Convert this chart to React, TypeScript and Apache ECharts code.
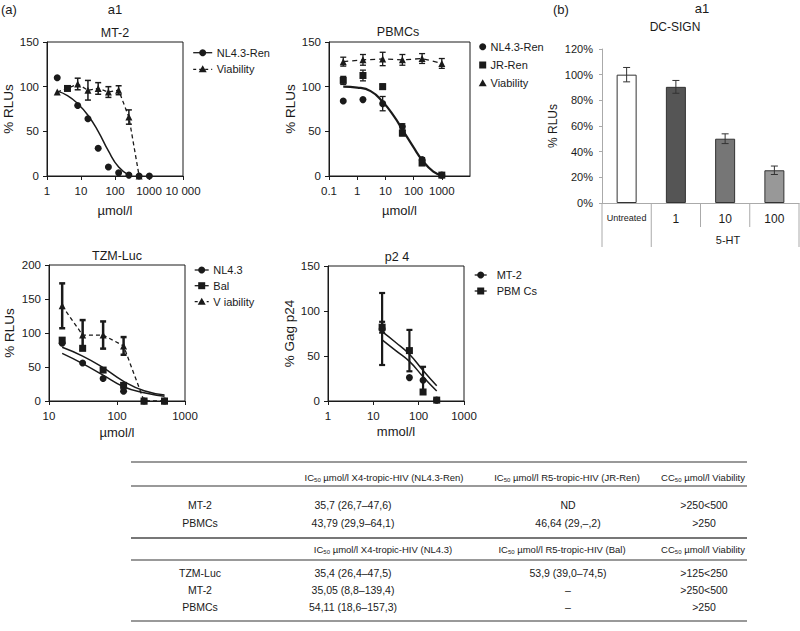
import React, { useEffect, useRef } from 'react';
import * as echarts from 'echarts';

const FONT = '"Liberation Sans", Arial, Helvetica, sans-serif';
const INK = '#1a1a1a';

// ---------- (a) MT-2 ----------
const mt2NlConc = [2, 8, 16, 32, 64, 128, 256, 512, 1024];
const mt2NlRlu = [110, 79, 64, 31, 10, 3.5, 1, 0, 0];
const mt2FitConc = [2, 4, 8, 16, 32, 64, 128, 256];
const mt2FitRlu = [95, 90, 81, 68, 50, 28, 10, 1];
const mt2ViaConc = [2, 4, 8, 16, 32, 64, 128, 256, 512];
const mt2ViaRlu = [94, 98, 103, 96, 98, 94, 96, 66, 0];
const mt2ViaErr = [0, 0, 6.5, 11, 6.5, 6, 5, 8, 0];

// ---------- (a) PBMCs ----------
const pbConc = [0.32, 1.6, 8, 40, 200, 1000];
const pbNlRlu = [84, 85.5, 81, 55.5, 18.5, 1];
const pbNlErr = [0, 0, 8, 3, 2, 0];
const pbJrRlu = [107, 112.5, 100, 48, 14.5, 1];
const pbJrErr = [4.5, 6, 3, 3, 2, 0];
const pbViaRlu = [128, 130, 131, 130, 131.5, 126];
const pbViaErr = [5, 6, 7.5, 6, 5.5, 5.5];
const pbFitConc = [0.32, 1, 3, 8, 20, 40, 100, 200, 500, 1000];
const pbFitRlu = [100, 99, 95, 83, 67, 52, 32, 18, 5, 1];

// ---------- (a) TZM-Luc ----------
const tzmConc = [15.625, 31.25, 62.5, 125, 250, 500];
const tzmNlRlu = [85, 56, 33, 14.5, 0, 0];
const tzmBalRlu = [89.5, 77.5, 45.5, 23, 0, 0];
const tzmViaRlu = [140, 97, 97, 81, 0, 0];
const tzmViaErr = [33, 22, 20, 13, 0, 0];
const tzmFitUpper = [79, 66, 49, 29, 15, 9];
const tzmFitLower = [70, 55, 38, 21, 12, 7];

// ---------- (a) p24 ----------
const p24Conc = [15.625, 62.5, 125, 250];
const p24Mt2 = [80, 26, 23, 1];
const p24Mt2Err = [40, 0, 15, 0];
const p24Pbmc = [82, 56, 10, 1];
const p24PbmcErr = [6, 23, 0, 0];
const p24FitConc = [15.625, 31.25, 62.5, 125, 250];
const p24FitUpper = [77, 65, 52, 34, 17];
const p24FitLower = [68, 56, 44, 27, 11];

// ---------- (b) DC-SIGN ----------
const dcCategories = ['Untreated', '1', '10', '100'];
const dcRlu = [1.0, 0.905, 0.501, 0.255];
const dcErr = [0.056, 0.05, 0.038, 0.033];
const dcColors = ['#ffffff', '#555555', '#767676', '#989898'];

// ---------- table ----------
const tableHeader1 = [
  ['IC', ' µmol/l X4-tropic-HIV (NL4.3-Ren)'],
  ['IC', ' µmol/l R5-tropic-HIV (JR-Ren)'],
  ['CC', ' µmol/l Viability'],
];
const tableRows1 = [
  ['MT-2', '35,7 (26,7–47,6)', 'ND', '>250<500'],
  ['PBMCs', '43,79 (29,9–64,1)', '46,64 (29,–,2)', '>250'],
];
const tableHeader2 = [
  ['IC', ' µmol/l X4-tropic-HIV (NL4.3)'],
  ['IC', ' µmol/l R5-tropic-HIV (Bal)'],
  ['CC', ' µmol/l Viability'],
];
const tableRows2 = [
  ['TZM-Luc', '35,4 (26,4–47,5)', '53,9 (39,0–74,5)', '>125<250'],
  ['MT-2', '35,05 (8,8–139,4)', '–', '>250<500'],
  ['PBMCs', '54,11 (18,6–157,3)', '–', '>250'],
];

const pairs = (xs: number[], ys: number[]) => xs.map((x, i) => [x, ys[i]]);
const errData = (xs: number[], ys: number[], es: number[]) =>
  xs.map((x, i) => [x, ys[i] - es[i], ys[i] + es[i]]).filter((_, i) => es[i] > 0);

const fmtLog = (v: number) => {
  const r = Number(Number(v).toPrecision(6));
  return r >= 10000 ? String(r).replace(/(\d)(?=(\d{3})+$)/g, '$1 ') : String(r);
};

const logX = (gi: number, min: number, max: number, name: string, nameGap: number) => ({
  type: 'log', logBase: 10, gridIndex: gi, min, max, name, nameLocation: 'middle', nameGap,
  nameTextStyle: { fontFamily: FONT, fontSize: 13, color: INK },
  axisLine: { show: true, lineStyle: { color: INK, width: 1 } },
  axisTick: { show: true, length: 4, lineStyle: { color: INK } },
  minorTick: { show: false }, splitLine: { show: false },
  axisLabel: { fontFamily: FONT, fontSize: 11.5, color: INK, margin: 9, formatter: fmtLog },
});

const valY = (gi: number, max: number, interval: number, name: string, nameGap: number) => ({
  type: 'value', gridIndex: gi, min: 0, max, interval, name, nameLocation: 'middle', nameGap,
  nameTextStyle: { fontFamily: FONT, fontSize: 13.5, color: INK },
  axisLine: { show: true, lineStyle: { color: INK, width: 1 } },
  axisTick: { show: true, length: 4, lineStyle: { color: INK } },
  splitLine: { show: false },
  axisLabel: { fontFamily: FONT, fontSize: 11.5, color: INK, margin: 8 },
});

const errorSeries = (gi: number, data: number[][], lw: number, cap: number, color = INK) => ({
  type: 'custom', xAxisIndex: gi, yAxisIndex: gi, silent: true, z: 3,
  encode: { x: 0, y: [1, 2] },
  data,
  renderItem: (_p: any, api: any) => {
    const x = api.value(0);
    const lo = api.coord([x, api.value(1)]);
    const hi = api.coord([x, api.value(2)]);
    const st = { stroke: color, lineWidth: lw };
    return {
      type: 'group',
      children: [
        { type: 'line', shape: { x1: lo[0], y1: lo[1], x2: hi[0], y2: hi[1] }, style: st },
        { type: 'line', shape: { x1: lo[0] - cap, y1: lo[1], x2: lo[0] + cap, y2: lo[1] }, style: st },
        { type: 'line', shape: { x1: hi[0] - cap, y1: hi[1], x2: hi[0] + cap, y2: hi[1] }, style: st },
      ],
    };
  },
});

const markerSeries = (gi: number, data: any[], symbol: string, size = 7) => ({
  type: 'scatter', xAxisIndex: gi, yAxisIndex: gi, silent: true, z: 5,
  symbol, symbolSize: size, itemStyle: { color: INK, opacity: 1 }, data,
});

const fitSeries = (gi: number, data: number[][], width = 1.5) => ({
  type: 'line', xAxisIndex: gi, yAxisIndex: gi, silent: true, z: 4,
  smooth: true, showSymbol: false, symbol: 'none',
  lineStyle: { color: INK, width }, data,
});

const dashSeries = (gi: number, data: any[], dash: number[], size = 7) => ({
  type: 'line', xAxisIndex: gi, yAxisIndex: gi, silent: true, z: 4,
  symbol: 'triangle', symbolSize: size, showSymbol: true,
  itemStyle: { color: INK, opacity: 1 },
  lineStyle: { color: INK, width: 1.3, type: dash }, data,
});

// graphic helpers
const txt = (x: number, y: number, text: string, size: number, align = 'center', color = INK) => ({
  type: 'text', x, y, silent: true,
  style: {
    text, fill: color, fontFamily: FONT, fontSize: size,
    textAlign: align, align, textVerticalAlign: 'middle', verticalAlign: 'middle',
  },
});
const hline = (x1: number, x2: number, y: number, color: string, w: number) => ({
  type: 'line', silent: true, shape: { x1, y1: y, x2, y2: y }, style: { stroke: color, lineWidth: w },
});
const vline = (x: number, y1: number, y2: number, color: string, w: number) => ({
  type: 'line', silent: true, shape: { x1: x, y1, x2: x, y2 }, style: { stroke: color, lineWidth: w },
});
const markerShape = (kind: string, x: number, y: number) => {
  if (kind === 'circle') return { type: 'circle', silent: true, shape: { cx: x, cy: y, r: 3.5 }, style: { fill: INK } };
  if (kind === 'rect') return { type: 'rect', silent: true, shape: { x: x - 3.5, y: y - 3.5, width: 7, height: 7 }, style: { fill: INK } };
  return { type: 'polygon', silent: true, shape: { points: [[x, y - 4], [x - 4, y + 3], [x + 4, y + 3]] }, style: { fill: INK } };
};
const legendItem = (mx: number, y: number, tx: number, label: string, kind: string, line: string, half: number) => {
  const els: any[] = [];
  if (line !== 'none') {
    els.push({
      type: 'line', silent: true, shape: { x1: mx - half, y1: y, x2: mx + half, y2: y },
      style: { stroke: INK, lineWidth: 1.3, lineDash: line === 'dashed' ? [3, 3] : null },
    });
  }
  els.push(markerShape(kind, mx, y));
  els.push(txt(tx, y, label, 11, 'left'));
  return els;
};
const richHeader = (x: number, y: number, h: string[]) => ({
  type: 'text', x, y, silent: true,
  style: {
    text: `{a|${h[0]}}{s|50}{a|${h[1]}}`,
    textAlign: 'center', align: 'center', textVerticalAlign: 'middle', verticalAlign: 'middle',
    rich: {
      a: { fontFamily: FONT, fontSize: 9.5, fill: INK, color: INK, lineHeight: 12 },
      s: { fontFamily: FONT, fontSize: 6, fill: INK, color: INK, lineHeight: 7, verticalAlign: 'bottom' },
    },
  },
});

export default function App() {
  const ref = useRef<HTMLDivElement>(null);

  useEffect(() => {
    if (!ref.current) return;
    const chart = echarts.init(ref.current, undefined, { renderer: 'svg' });

    const frame = { show: true, borderColor: INK, borderWidth: 1, backgroundColor: 'transparent' };

    const graphic: any[] = [];
    // titles
    graphic.push(txt(1, 9, '(a)', 13, 'left'));
    graphic.push(txt(115, 9, 'a1', 13));
    graphic.push(txt(115, 33, 'MT-2', 12.5));
    graphic.push(txt(398, 32, 'PBMCs', 12.5));
    graphic.push(txt(553, 9, '(b)', 13, 'left'));
    graphic.push(txt(702, 8, 'a1', 13));
    graphic.push(txt(675, 27, 'DC-SIGN', 12));
    graphic.push(txt(117, 256, 'TZM-Luc', 12.5));
    graphic.push(txt(397, 257, 'p2 4', 12.5));
    graphic.push(txt(728, 240, '5-HT', 11));

    // legends
    graphic.push(...legendItem(202.7, 52.7, 216.7, 'NL4.3-Ren', 'circle', 'solid', 9.5));
    graphic.push(...legendItem(202.7, 69.3, 216.7, 'Viability', 'triangle', 'dashed', 9.5));
    graphic.push(...legendItem(482.7, 46.7, 490.5, 'NL4.3-Ren', 'circle', 'none', 0));
    graphic.push(...legendItem(482.7, 65, 490.5, 'JR-Ren', 'rect', 'none', 0));
    graphic.push(...legendItem(482.7, 83.3, 490.5, 'Viability', 'triangle', 'none', 0));
    graphic.push(...legendItem(201.7, 270, 213.3, 'NL4.3', 'circle', 'solid', 7));
    graphic.push(...legendItem(201.7, 285.7, 213.3, 'Bal', 'rect', 'solid', 7));
    graphic.push(...legendItem(201.7, 301.7, 213.3, 'V iability', 'triangle', 'dashed', 7));
    graphic.push(...legendItem(480.7, 275, 496.7, 'MT-2', 'circle', 'solid', 6));
    graphic.push(...legendItem(480.7, 291, 496.7, 'PBM Cs', 'rect', 'solid', 6));

    // bar chart category separators
    const barLeft = 602, barWidth = 197, axisY = 203;
    for (let i = 0; i <= dcCategories.length; i++) {
      const x = barLeft + (i * barWidth) / dcCategories.length;
      const inner = i === 2 || i === 3;
      graphic.push(vline(x, axisY, inner ? 227 : 247, '#aaaaaa', 1));
    }

    // table
    const tLeft = 131, tRight = 747;
    graphic.push(hline(tLeft, tRight, 462, '#777777', 1.5));
    graphic.push(hline(tLeft, tRight, 486, '#777777', 1.5));
    graphic.push(hline(tLeft, tRight, 538, '#777777', 2));
    graphic.push(hline(tLeft, tRight, 560, '#777777', 1.5));
    graphic.push(hline(tLeft, tRight, 621, '#777777', 1.5));
    const valCols = [200, 353, 568, 704];
    const headCols1 = [384, 567, 703];
    const headCols2 = [383, 562, 703];
    tableHeader1.forEach((h, i) => graphic.push(richHeader(headCols1[i], 477, h)));
    tableHeader2.forEach((h, i) => graphic.push(richHeader(headCols2[i], 549, h)));
    const rowsY1 = [505, 523];
    const rowsY2 = [573, 590, 607];
    tableRows1.forEach((r, ri) => r.forEach((c, ci) => graphic.push(txt(valCols[ci], rowsY1[ri], c, 10.5))));
    tableRows2.forEach((r, ri) => r.forEach((c, ci) => graphic.push(txt(valCols[ci], rowsY2[ri], c, 10.5))));

    const option: any = {
      animation: false,
      textStyle: { fontFamily: FONT },
      grid: [
        { left: 47, top: 42, width: 136, height: 134, ...frame },
        { left: 329, top: 42, width: 141, height: 134, ...frame },
        { left: 602, top: 49, width: 197, height: 154, show: false },
        { left: 49, top: 265, width: 136, height: 136, ...frame },
        { left: 328, top: 266, width: 136, height: 135, ...frame },
      ],
      xAxis: [
        logX(0, 1, 10000, 'µmol/l', 28),
        logX(1, 0.1, 10000, 'µmol/l', 28),
        {
          type: 'category', gridIndex: 2, data: dcCategories,
          axisLine: { show: true, lineStyle: { color: '#aaaaaa' } },
          axisTick: { show: false },
          axisLabel: {
            interval: 0, margin: 10, fontFamily: FONT, fontSize: 12, color: INK,
            formatter: (v: string) => (v === 'Untreated' ? '{s|Untreated}' : v),
            rich: { s: { fontFamily: FONT, fontSize: 9, color: INK } },
          },
        },
        logX(3, 10, 1000, 'µmol/l', 25),
        logX(4, 1, 1000, 'mmol/l', 24),
      ],
      yAxis: [
        valY(0, 150, 50, '% RLUs', 30),
        valY(1, 150, 50, '% RLUs', 29),
        {
          type: 'value', gridIndex: 2, min: 0, max: 1.2, interval: 0.2,
          name: '% RLUs', nameLocation: 'middle', nameGap: 43,
          nameTextStyle: { fontFamily: FONT, fontSize: 12, color: INK },
          axisLine: { show: true, lineStyle: { color: '#aaaaaa' } },
          axisTick: { show: true, length: 3, lineStyle: { color: '#aaaaaa' } },
          splitLine: { show: false },
          axisLabel: {
            fontFamily: FONT, fontSize: 11, color: INK, margin: 9,
            formatter: (v: number) => Math.round(v * 100) + '%',
          },
        },
        valY(3, 200, 50, '% RLUs', 33),
        valY(4, 150, 50, '% Gag p24', 30),
      ],
      series: [
        // MT-2
        fitSeries(0, pairs(mt2FitConc, mt2FitRlu)),
        errorSeries(0, errData(mt2ViaConc, mt2ViaRlu, mt2ViaErr), 1.5, 3),
        dashSeries(
          0,
          mt2ViaConc.map((x, i) => (i === 1 ? { value: [x, mt2ViaRlu[i]], symbol: 'rect' } : [x, mt2ViaRlu[i]])),
          [4, 3],
        ),
        markerSeries(0, pairs(mt2NlConc, mt2NlRlu), 'circle'),
        // PBMCs
        fitSeries(1, pairs(pbFitConc, pbFitRlu), 2.2),
        errorSeries(1, errData(pbConc, pbViaRlu, pbViaErr), 1.3, 3),
        errorSeries(1, errData(pbConc, pbJrRlu, pbJrErr), 1.3, 3),
        errorSeries(1, errData(pbConc, pbNlRlu, pbNlErr), 1.3, 3),
        dashSeries(1, pairs(pbConc, pbViaRlu), [5, 4]),
        markerSeries(1, pairs(pbConc, pbJrRlu), 'rect'),
        markerSeries(1, pairs(pbConc, pbNlRlu), 'circle'),
        // DC-SIGN bars
        {
          type: 'bar', xAxisIndex: 2, yAxisIndex: 2, silent: true, barWidth: 20,
          itemStyle: { borderColor: '#333333', borderWidth: 1 },
          data: dcRlu.map((v, i) => ({ value: v, itemStyle: { color: dcColors[i] } })),
        },
        errorSeries(2, dcRlu.map((v, i) => [i, v - dcErr[i], v + dcErr[i]]), 1, 3.5, '#333333'),
        // TZM-Luc
        fitSeries(3, pairs(tzmConc, tzmFitUpper)),
        fitSeries(3, pairs(tzmConc, tzmFitLower)),
        errorSeries(3, errData(tzmConc, tzmViaRlu, tzmViaErr), 2.5, 3),
        dashSeries(3, pairs(tzmConc, tzmViaRlu), [4, 3]),
        markerSeries(3, pairs(tzmConc, tzmBalRlu), 'rect'),
        markerSeries(3, pairs(tzmConc, tzmNlRlu), 'circle'),
        // p24
        fitSeries(4, pairs(p24FitConc, p24FitUpper)),
        fitSeries(4, pairs(p24FitConc, p24FitLower)),
        errorSeries(4, errData(p24Conc, p24Mt2, p24Mt2Err), 2.2, 3),
        errorSeries(4, errData(p24Conc, p24Pbmc, p24PbmcErr), 2.2, 3),
        markerSeries(4, pairs(p24Conc, p24Pbmc), 'rect'),
        markerSeries(4, pairs(p24Conc, p24Mt2), 'circle'),
      ],
      graphic,
    };

    chart.setOption(option);
    return () => chart.dispose();
  }, []);

  return (
    <div
      ref={ref}
      style={{ position: 'absolute', left: 0, top: 0, width: 800, height: 631, background: '#ffffff' }}
    />
  );
}
